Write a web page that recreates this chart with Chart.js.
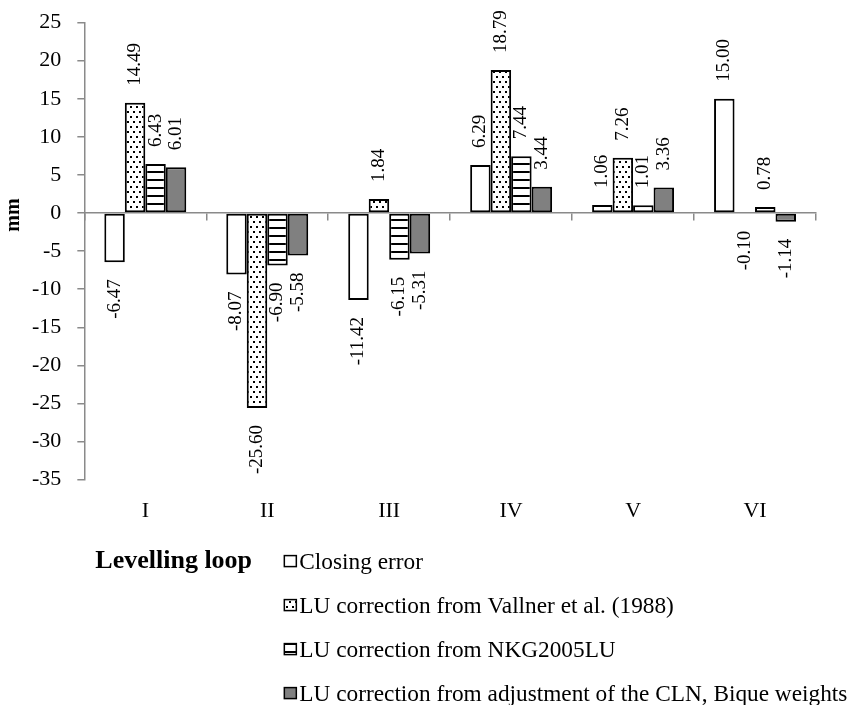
<!DOCTYPE html>
<html>
<head>
<meta charset="utf-8">
<script src="https://cdn.jsdelivr.net/npm/chart.js@4/dist/chart.umd.min.js"></script>
<style>
  html, body { margin: 0; padding: 0; background: #fff; }
  #wrap { width: 852px; height: 705px; position: relative; }
</style>
</head>
<body>
<div id="wrap"><canvas id="chart"></canvas></div>
<script>
  // data
  const loops = ['I', 'II', 'III', 'IV', 'V', 'VI'];
  const closingError = [-6.47, -8.07, -11.42, 6.29, 1.06, 15.00];
  const vallner = [14.49, -25.60, 1.84, 18.79, 7.26, -0.10];
  const nkg = [6.43, -6.90, -6.15, 7.44, 1.01, 0.78];
  const bique = [6.01, -5.58, -5.31, 3.44, 3.36, -1.14];
  const seriesNames = [
    'Closing error',
    'LU correction from Vallner et al. (1988)',
    'LU correction from NKG2005LU',
    'LU correction from adjustment of the CLN, Bique weights'
  ];
  const yTicks = { min: -35, max: 25, step: 5 };

  const AXIS = '#8a8a8a';
  const FONT = '"Liberation Serif", "Times New Roman", serif';
  Chart.defaults.font.family = FONT;
  Chart.defaults.color = '#000';

  const canvas = document.getElementById('chart');
  const cctx = canvas.getContext('2d');

  function makePattern(w, h, draw){
    const c = document.createElement('canvas');
    c.width = w; c.height = h;
    const g = c.getContext('2d');
    g.fillStyle = '#fff';
    g.fillRect(0, 0, w, h);
    g.fillStyle = '#000';
    draw(g);
    return cctx.createPattern(c, 'repeat');
  }
  const dots = makePattern(6, 10, g => { g.fillRect(1, 1, 2, 2); g.fillRect(4, 6, 2, 2); });
  const stripes = makePattern(8, 8, g => { g.fillRect(0, 3, 8, 2); });
  const fills = ['#ffffff', dots, stripes, '#808080'];

  const datasets = [closingError, vallner, nkg, bique].map((d, i) => ({
    label: seriesNames[i],
    data: d,
    backgroundColor: fills[i],
    borderColor: '#000',
    borderWidth: 2,
    borderSkipped: false,
    barPercentage: 1,
    categoryPercentage: 0.672
  }));

  // rotated value labels at the bar ends
  const barLabels = {
    id: 'barLabels',
    afterDatasetsDraw(chart){
      const ctx = chart.ctx;
      const GAP = 17;
      ctx.save();
      ctx.font = '19px ' + FONT;
      ctx.fillStyle = '#000';
      chart.data.datasets.forEach((ds, i) => {
        chart.getDatasetMeta(i).data.forEach((bar, j) => {
          const v = ds.data[j];
          ctx.save();
          ctx.translate(bar.x, bar.y + (v >= 0 ? -GAP : GAP));
          ctx.rotate(-Math.PI / 2);
          ctx.textBaseline = 'middle';
          ctx.textAlign = v >= 0 ? 'left' : 'right';
          ctx.fillText(v.toFixed(2), 0, 0);
          ctx.restore();
        });
      });
      ctx.restore();
    }
  };

  // axis titles + legend laid out like the original (title left of a vertical legend)
  const sideText = {
    id: 'sideText',
    afterDraw(chart){
      const ctx = chart.ctx;
      const area = chart.chartArea;
      const zeroY = chart.scales.y.getPixelForValue(0);
      ctx.save();
      ctx.fillStyle = '#000';
      // y title, centred on the zero line
      ctx.font = 'bold 20px ' + FONT;
      ctx.translate(14, zeroY + 2);
      ctx.rotate(-Math.PI / 2);
      ctx.textAlign = 'center';
      ctx.textBaseline = 'middle';
      ctx.fillText('mm', 0, 0);
      ctx.setTransform(1, 0, 0, 1, 0, 0);

      const top = area.bottom + 82;
      const rowH = 44;
      ctx.font = 'bold 26px ' + FONT;
      ctx.textAlign = 'left';
      ctx.fillText('Levelling loop', area.left + 11, top);

      ctx.font = '23.3px ' + FONT;
      const sx = area.left + 200;
      seriesNames.forEach((name, i) => {
        const y = top + i * rowH;
        ctx.fillStyle = fills[i];
        ctx.fillRect(sx, y - 6, 12, 11);
        ctx.strokeStyle = '#000';
        ctx.lineWidth = 1.5;
        ctx.strokeRect(sx, y - 6, 12, 11);
        ctx.fillStyle = '#000';
        ctx.fillText(name, sx + 15, y + 1);
      });
      ctx.restore();
    }
  };

  new Chart(canvas, {
    type: 'bar',
    data: { labels: loops, datasets },
    options: {
      responsive: true,
      maintainAspectRatio: false,
      animation: false,
      layout: { padding: { left: 16, right: 36, top: 19, bottom: 163 } },
      plugins: { legend: { display: false }, tooltip: { enabled: false } },
      scales: {
        x: {
          type: 'category',
          offset: true,
          grid: { display: false, drawTicks: false },
          border: { display: false },
          ticks: { padding: 18, font: { size: 22 } }
        },
        x2: {
          type: 'category',
          axis: 'x',
          position: { y: 0 },
          offset: true,
          grid: { offset: true, drawOnChartArea: false, tickLength: 7, color: AXIS, lineWidth: 1.5 },
          border: { color: AXIS, width: 1.5 },
          ticks: { display: false }
        },
        y: {
          min: yTicks.min,
          max: yTicks.max,
          ticks: { stepSize: yTicks.step, padding: 16, font: { size: 22, lineHeight: 0.6 } },
          grid: { drawOnChartArea: false, tickLength: 7, tickColor: AXIS, lineWidth: 1.5 },
          border: { color: AXIS, width: 1.5 }
        }
      }
    },
    plugins: [barLabels, sideText]
  });
</script>
</body>
</html>
